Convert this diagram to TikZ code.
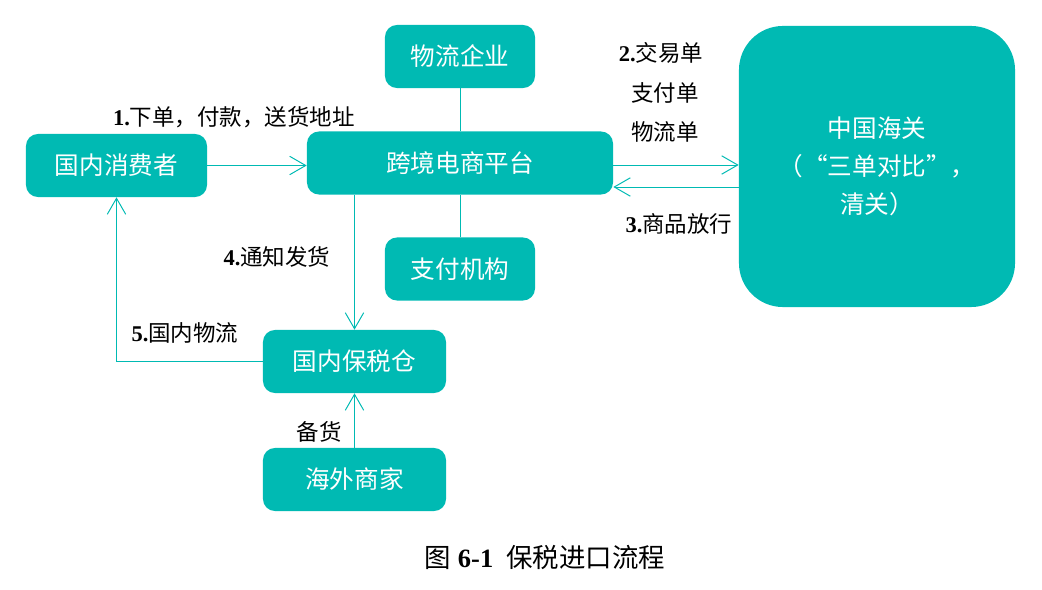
\documentclass[tikz,border=0pt]{standalone}
\usepackage{fontspec}
\setmainfont{Liberation Serif}
\newfontfamily\cjk{Noto Sans CJK SC}
\usepackage{tikz}
\usetikzlibrary{calc, positioning, arrows.meta}
\definecolor{teal0}{HTML}{00BAB3}

\begin{document}
\begin{tikzpicture}[x=0.025cm,y=-0.025cm,
                    box node/.style={rounded corners=0.3cm,fill=teal0,text=white,inner sep=0pt,
                                     font=\cjk\fontsize{17.5}{21}\selectfont,minimum height=1.575cm},
                    big node/.style={box node,rounded corners=1.1cm,align=center,
                                     font=\cjk\fontsize{17.5}{27}\selectfont},
                    lbl/.style={font=\fontsize{16}{27}\selectfont,align=center,inner sep=0pt},
                    link/.style={draw=teal0,line width=0.7pt},
                    arr/.style={link,-{Straight Barb[length=4mm,width=4.6mm]}}]
\useasboundingbox (0,0) rectangle (1042,590);

\node[box node,minimum width=4.525cm] (cons) at (116.5,165.5) {国内消费者};
\node[box node,minimum width=7.65cm]  (plat) at (460,163) {跨境电商平台};
\node[box node,minimum width=3.75cm]  (logi) at (460,56.5) {物流企业};
\node[box node,minimum width=3.75cm]  (pay)  at (460,269) {支付机构};
\node[box node,minimum width=4.575cm] (ware) at (354.5,361.5) {国内保税仓};
\node[box node,minimum width=4.575cm] (mer)  at (354.5,479.5) {海外商家};
\node[big node,minimum width=6.9cm,minimum height=7.025cm] (cust) at (877,166.5)
     {中国海关\\（“三单对比”，\\清关）};

\coordinate (c2) at ($(plat.east)+(0,2)$);
\coordinate (c3) at ($(plat.east)+(0,24)$);

\draw[arr] (cons.east) -- (cons.east -| plat.west);
\draw[link] (logi) -- (plat);
\draw[link] (pay) -- (plat);
\draw[arr] (c2) -- (c2 -| cust.west);
\draw[arr] (c3 -| cust.west) -- (c3);
\draw[arr] (plat.south -| ware.north) -- (ware.north);
\draw[arr] (ware.west) -| (cons.south);
\draw[arr] (mer) -- (ware);

\node[lbl] (l1) at (234,117) {\textbf{1.}{\cjk 下单，付款，送货地址}};
\node[lbl] (l2) at (661,53) {\textbf{2.}{\cjk 交易单}};
\node[lbl] (l2b) at (665,93) {\cjk 支付单};
\node[lbl] (l2c) at (665,132) {\cjk 物流单};
\node[lbl] (l3) at (679,224) {\textbf{3.}{\cjk 商品放行}};
\node[lbl] (l4) at (277,257) {\textbf{4.}{\cjk 通知发货}};
\node[lbl] (l5) at (185,333) {\textbf{5.}{\cjk 国内物流}};
\node[lbl] (l6) at (319,432) {\cjk 备货};

\node[lbl,font=\fontsize{18.8}{22}\selectfont] (cap) at (545,557)
     {{\cjk 图} \textbf{6-1}\enspace{\cjk 保税进口流程}};

\end{tikzpicture}
\end{document}
